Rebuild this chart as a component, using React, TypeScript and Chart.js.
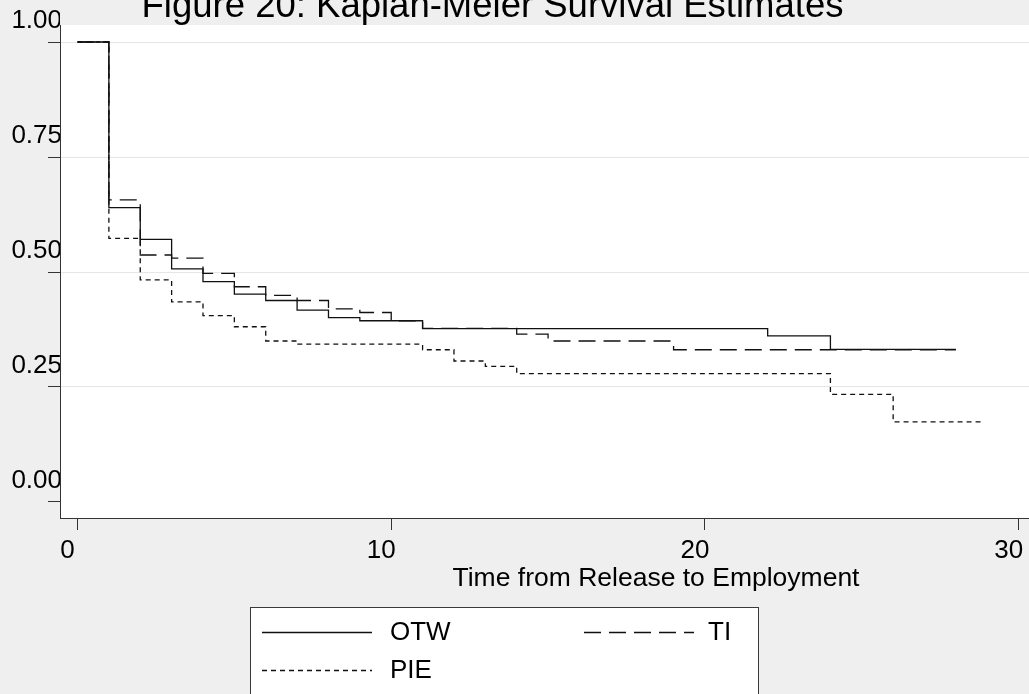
import { useEffect, useRef } from "react";
import { Chart, registerables } from "chart.js";

Chart.register(...registerables);

// ---- Data ----
const chartTitle = "Figure 20: Kaplan-Meier Survival Estimates";
const xAxisTitle = "Time from Release to Employment";
const seriesNames = ["OTW", "TI", "PIE"];
const xTickValues = [0, 10, 20, 30];
const yTickValues = [0, 0.25, 0.5, 0.75, 1.0];

const otwTime = [0, 1, 2, 3, 4, 5, 6, 7, 8, 9, 11, 22, 24, 28];
const otwSurvival = [1.0, 0.64, 0.571, 0.507, 0.479, 0.452, 0.438, 0.417, 0.401, 0.394, 0.377, 0.361, 0.332, 0.332];

const tiTime = [0, 1, 2, 3, 4, 5, 6, 7, 8, 9, 10, 11, 14, 15, 19, 28];
const tiSurvival = [1.0, 0.657, 0.537, 0.53, 0.497, 0.468, 0.449, 0.438, 0.42, 0.412, 0.394, 0.3775, 0.365, 0.35, 0.331, 0.331];

const pieTime = [0, 1, 2, 3, 4, 5, 6, 7, 11, 12, 13, 14, 24, 26, 28.85];
const pieSurvival = [1.0, 0.573, 0.483, 0.435, 0.405, 0.381, 0.35, 0.343, 0.331, 0.3065, 0.295, 0.279, 0.234, 0.174, 0.174];

const FONT = "'Liberation Sans', Arial, Helvetica, sans-serif";

function toPoints(t: number[], v: number[]) {
  return t.map((x, i) => ({ x, y: v[i] }));
}

export default function App() {
  const ref = useRef<HTMLCanvasElement>(null);

  useEffect(() => {
    document.body.style.margin = "0";
    const canvas = ref.current!;

    const decor = {
      id: "decor",
      beforeDraw(chart: any) {
        const { ctx, chartArea: a, width, height } = chart;
        ctx.save();
        ctx.fillStyle = "#efefef";
        ctx.fillRect(0, 0, width, height);
        ctx.fillStyle = "#ffffff";
        ctx.fillRect(a.left, a.top, a.right - a.left, a.bottom - a.top);
        ctx.restore();
      },
      afterDraw(chart: any) {
        const { ctx } = chart;
        ctx.save();
        ctx.fillStyle = "#000";
        ctx.textAlign = "center";
        ctx.textBaseline = "alphabetic";
        ctx.font = `36.5px ${FONT}`;
        ctx.fillText(chartTitle, 492.5, 17);
        ctx.font = `26.5px ${FONT}`;
        ctx.fillText(xAxisTitle, 656, 586);

        // legend
        ctx.fillStyle = "#ffffff";
        ctx.fillRect(250, 607, 508, 100);
        ctx.strokeStyle = "#3a3a3a";
        ctx.lineWidth = 1;
        ctx.strokeRect(250.5, 607.5, 508, 100);

        const slots = [
          { lx: 262, tx: 390, y: 632 },
          { lx: 584, tx: 708, y: 632 },
          { lx: 262, tx: 390, y: 670 },
        ];
        chart.data.datasets.forEach((ds: any, i: number) => {
          const s = slots[i];
          ctx.save();
          ctx.strokeStyle = ds.borderColor;
          ctx.lineWidth = ds.borderWidth;
          ctx.setLineDash(ds.borderDash || []);
          ctx.beginPath();
          ctx.moveTo(s.lx, s.y + 0.5);
          ctx.lineTo(s.lx + 110, s.y + 0.5);
          ctx.stroke();
          ctx.restore();
          ctx.fillStyle = "#000";
          ctx.textAlign = "left";
          ctx.textBaseline = "middle";
          ctx.font = `26px ${FONT}`;
          ctx.fillText(ds.label, s.tx, s.y + 1);
        });
        ctx.restore();
      },
    };

    const chart = new Chart(canvas, {
      type: "line",
      data: {
        datasets: [
          {
            label: seriesNames[0],
            data: toPoints(otwTime, otwSurvival),
            borderColor: "#111",
            borderWidth: 1.3,
            borderDash: [],
            stepped: "before",
            pointRadius: 0,
            fill: false,
          },
          {
            label: seriesNames[1],
            data: toPoints(tiTime, tiSurvival),
            borderColor: "#111",
            borderWidth: 1.3,
            borderDash: [17, 8],
            stepped: "before",
            pointRadius: 0,
            fill: false,
          },
          {
            label: seriesNames[2],
            data: toPoints(pieTime, pieSurvival),
            borderColor: "#111",
            borderWidth: 1.3,
            borderDash: [5, 4],
            stepped: "before",
            pointRadius: 0,
            fill: false,
          },
        ],
      },
      options: {
        animation: false,
        responsive: false,
        layout: { padding: { top: 25, left: 0, right: 0, bottom: 0 } },
        plugins: {
          legend: { display: false },
          title: { display: false },
          tooltip: { enabled: false },
        },
        scales: {
          x: {
            type: "linear",
            min: -0.558,
            max: 30.33,
            afterBuildTicks: (s: any) => {
              s.ticks = xTickValues.map((v) => ({ value: v }));
            },
            afterFit: (s: any) => {
              s.height = 176;
              s.paddingLeft = 0;
              s.paddingRight = 0;
            },
            grid: {
              drawOnChartArea: false,
              drawTicks: true,
              tickLength: 12,
              tickColor: "#333",
            },
            border: { display: true, color: "#333", width: 1 },
            ticks: {
              font: { family: FONT, size: 26 },
              color: "#000",
              padding: 5,
              labelOffset: -10,
              maxRotation: 0,
              autoSkip: false,
              callback: (v: any) => String(v),
            },
          },
          y: {
            type: "linear",
            min: -0.0348,
            max: 1.037,
            afterBuildTicks: (s: any) => {
              s.ticks = yTickValues.map((v) => ({ value: v }));
            },
            afterFit: (s: any) => {
              s.width = 60;
              s.paddingTop = 0;
              s.paddingBottom = 0;
            },
            grid: {
              color: (c: any) => (c.tick && c.tick.value === 0 ? "rgba(0,0,0,0)" : "#e6e6e6"),
              drawTicks: true,
              tickLength: 12,
              tickColor: "#333",
            },
            border: { display: true, color: "#333", width: 1 },
            ticks: {
              font: { family: FONT, size: 26 },
              color: "#000",
              padding: -14,
              labelOffset: -21,
              autoSkip: false,
              callback: (v: any) => Number(v).toFixed(2),
            },
          },
        },
      },
      plugins: [decor],
    } as any);

    return () => chart.destroy();
  }, []);

  return (
    <div style={{ width: 1029, height: 694 }}>
      <canvas ref={ref} width={1029} height={694} style={{ display: "block" }} />
    </div>
  );
}
